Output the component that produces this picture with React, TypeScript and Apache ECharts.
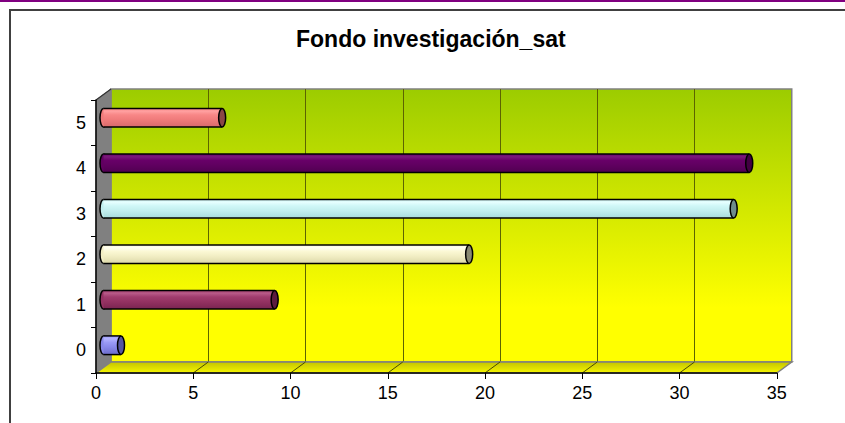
import React, { useEffect, useRef } from 'react';
import * as echarts from 'echarts';

const chartTitle = 'Fondo investigación_sat';
const categories = ['0', '1', '2', '3', '4', '5'];
const values = [0.9, 8.8, 18.8, 32.4, 33.2, 6.1];
const xMin = 0;
const xMax = 35;
const xInterval = 5;
const floorTicks = [5, 10, 15, 20, 25, 30];

const barColors = [
  { light: '#b4b4ff', top: '#9a9af6', base: '#8888ea', dark: '#6c6cc8', cap: '#5656a0' },
  { light: '#b85a88', top: '#a03c6e', base: '#943262', dark: '#7a2450', cap: '#5c1c3e' },
  { light: '#fffff2', top: '#fbf8d4', base: '#f2eec4', dark: '#dcd8a8', cap: '#8a8a72' },
  { light: '#e6ffff', top: '#cff7f7', base: '#c2eeee', dark: '#a8dcdc', cap: '#6e8c8c' },
  { light: '#7a1a7a', top: '#680068', base: '#600060', dark: '#500050', cap: '#420042' },
  { light: '#ffa0a0', top: '#f88686', base: '#ef7b7b', dark: '#d86a6a', cap: '#8a4646' },
];

const FONT = 'Liberation Sans, Arial, sans-serif';
const FRONT = { left: 96, top: 100, width: 680.75, height: 273 };
const DX = 15;
const DY = -11;

export default function App() {
  const ref = useRef<HTMLDivElement>(null);
  useEffect(() => {
    if (!ref.current) return;
    const chart = echarts.init(ref.current, undefined, { renderer: 'svg' });
    const fb = FRONT.top + FRONT.height;
    const fr = FRONT.left + FRONT.width;

    const grids = [
      { left: FRONT.left + DX, top: FRONT.top + DY, width: FRONT.width, height: FRONT.height },
      { left: FRONT.left, top: FRONT.top, width: FRONT.width, height: FRONT.height },
      { left: FRONT.left + DX / 2, top: FRONT.top + DY / 2 + 0.5, width: FRONT.width, height: FRONT.height },
    ].map((g, i) => ({
      ...g,
      containLabel: false,
      outerBoundsMode: 'none',
      show: i === 0,
      backgroundColor: i === 0
        ? new echarts.graphic.LinearGradient(0, 0, 0, 1, [
            { offset: 0, color: '#9ccc00' },
            { offset: 0.8, color: '#ffff00' },
            { offset: 1, color: '#ffff00' },
          ])
        : 'transparent',
      borderColor: '#808080',
      borderWidth: i === 0 ? 1.5 : 0,
    }));

    const hiddenX = (gi: number, split: boolean) => ({
      type: 'value', gridIndex: gi, min: xMin, max: xMax, interval: xInterval,
      axisLine: { show: false }, axisTick: { show: false }, axisLabel: { show: false },
      splitLine: { show: split, showMinLine: false, showMaxLine: false, lineStyle: { color: '#5c6400', width: 1 } },
    });
    const hiddenY = (gi: number) => ({
      type: 'category', gridIndex: gi, data: categories,
      axisLine: { show: false }, axisTick: { show: false }, axisLabel: { show: false }, splitLine: { show: false },
    });

    const option: any = {
      animation: false,
      backgroundColor: '#ffffff',
      title: {
        text: chartTitle,
        left: 291,
        top: 22,
        textStyle: { fontFamily: FONT, fontSize: 23, fontWeight: 'bold', color: '#000' },
      },
      grid: grids,
      xAxis: [
        hiddenX(0, true),
        {
          type: 'value', gridIndex: 1, min: xMin, max: xMax, interval: xInterval, z: 6,
          axisLine: { show: true, lineStyle: { color: '#000', width: 1.5 } },
          axisTick: { show: true, length: 6, lineStyle: { color: '#000', width: 1 } },
          axisLabel: { show: true, margin: 11, color: '#000', fontFamily: FONT, fontSize: 18 },
          splitLine: { show: false },
        },
        hiddenX(2, false),
      ],
      yAxis: [
        hiddenY(0),
        {
          type: 'category', gridIndex: 1, data: categories, z: 6,
          axisLine: { show: true, lineStyle: { color: '#000', width: 1.5 } },
          axisTick: { show: true, length: 5, lineStyle: { color: '#000', width: 1 } },
          axisLabel: { show: true, margin: 10, color: '#000', fontFamily: FONT, fontSize: 18 },
          splitLine: { show: false },
        },
        hiddenY(2),
      ],
      graphic: [
        { type: 'line', z: 10, shape: { x1: 0, y1: 1, x2: 845, y2: 1 }, style: { stroke: '#800080', lineWidth: 2 } },
        { type: 'line', z: 10, shape: { x1: 9, y1: 10, x2: 845, y2: 10 }, style: { stroke: '#404040', lineWidth: 2 } },
        { type: 'line', z: 10, shape: { x1: 10, y1: 9, x2: 10, y2: 423 }, style: { stroke: '#404040', lineWidth: 2 } },
        {
          type: 'polygon', z: 1,
          shape: { points: [[FRONT.left, FRONT.top], [FRONT.left + DX, FRONT.top + DY], [FRONT.left + DX, fb + DY], [FRONT.left, fb]] },
          style: { fill: '#808080', stroke: '#808080', lineWidth: 1 },
        },
        {
          type: 'line', z: 2,
          shape: { x1: FRONT.left, y1: FRONT.top, x2: FRONT.left + DX, y2: FRONT.top + DY },
          style: { stroke: '#333333', lineWidth: 1.2 },
        },
        {
          type: 'polygon', z: 1,
          shape: { points: [[FRONT.left, fb], [FRONT.left + DX, fb + DY], [fr + DX, fb + DY], [fr, fb]] },
          style: {
            fill: new echarts.graphic.LinearGradient(0, 0, 0, 1, [
              { offset: 0, color: '#c4c400' },
              { offset: 1, color: '#f6f600' },
            ]),
            stroke: '#808080', lineWidth: 1.5,
          },
        },
      ],
      series: [
        {
          type: 'custom', xAxisIndex: 1, yAxisIndex: 1, z: 3, silent: true,
          data: floorTicks.map((v) => [v, 0]),
          encode: { x: 0, y: 1 },
          renderItem: (params: any, api: any) => {
            const x = api.coord([api.value(0), 0])[0];
            const cs = params.coordSys;
            const yb = cs.y + cs.height;
            return {
              type: 'line',
              shape: { x1: x, y1: yb, x2: x + DX, y2: yb + DY },
              style: { stroke: '#4a4a00', lineWidth: 1 },
            };
          },
        },
        {
          type: 'custom', xAxisIndex: 2, yAxisIndex: 2, z: 4,
          data: values.map((v, i) => [v, i]),
          encode: { x: 0, y: 1 },
          renderItem: (params: any, api: any) => {
            const v = api.value(0);
            const c = api.value(1);
            const p0 = api.coord([0, c]);
            const p1 = api.coord([v, c]);
            const h = api.size([0, 1])[1] * 0.41;
            const y = p0[1] - h / 2;
            const rx = 3.5;
            const ry = h / 2;
            const col = barColors[params.dataIndex];
            const grad = new echarts.graphic.LinearGradient(0, 0, 0, 1, [
              { offset: 0, color: col.top },
              { offset: 0.15, color: col.light },
              { offset: 0.35, color: col.top },
              { offset: 0.6, color: col.base },
              { offset: 1, color: col.dark },
            ]);
            return {
              type: 'group',
              children: [
                { type: 'ellipse', shape: { cx: p0[0], cy: p0[1], rx, ry }, style: { fill: col.base, stroke: '#000', lineWidth: 1.5 } },
                { type: 'rect', shape: { x: p0[0], y, width: p1[0] - p0[0], height: h }, style: { fill: grad } },
                { type: 'line', shape: { x1: p0[0], y1: y, x2: p1[0], y2: y }, style: { stroke: '#000', lineWidth: 1.5 } },
                { type: 'line', shape: { x1: p0[0], y1: y + h, x2: p1[0], y2: y + h }, style: { stroke: '#000', lineWidth: 1.5 } },
                { type: 'ellipse', shape: { cx: p1[0], cy: p0[1], rx, ry }, style: { fill: col.cap, stroke: '#000', lineWidth: 1.5 } },
              ],
            };
          },
        },
      ],
    };
    chart.setOption(option);
    return () => chart.dispose();
  }, []);
  return <div ref={ref} style={{ position: 'fixed', left: 0, top: 0, width: 845, height: 423, background: '#fff' }} />;
}
